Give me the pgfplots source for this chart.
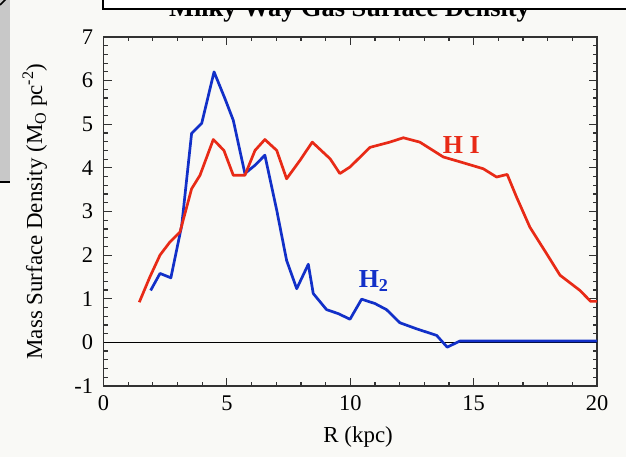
\documentclass[border=0pt]{standalone}
\usepackage{pgfplots}
\pgfplotsset{compat=1.18}
\usepackage{fontspec}
\setmainfont{Liberation Serif}
\definecolor{bgc}{RGB}{249,249,246}
\definecolor{hired}{RGB}{232,42,22}
\definecolor{htwoblue}{RGB}{18,48,200}
\definecolor{panelgray}{RGB}{200,200,200}
\definecolor{framec}{RGB}{50,50,50}
\begin{document}
\begin{tikzpicture}[x=1bp,y=1bp]
\useasboundingbox (0,0) rectangle (626,457);
\fill[bgc] (0,0) rectangle (626,457);
\begin{axis}[
  at={(103.5bp,71bp)}, anchor=south west,
  scale only axis, width=493.5bp, height=349bp,
  xmin=0, xmax=20, ymin=-1, ymax=7,
  xtick={0,5,10,15,20}, minor x tick num=4,
  ytick={-1,0,1,2,3,4,5,6,7}, minor y tick num=4,
  tick align=inside, major tick length=8bp, minor tick length=4bp,
  every tick/.style={framec, line width=1.2bp},
  axis line style={framec, line width=1.5bp},
  tick pos=both,
  /pgf/number format/assume math mode=true,
  tick label style={font=\fontsize{22.5}{24}\selectfont},
  xticklabel style={yshift=-6bp},
  yticklabel style={xshift=-7bp},
  xlabel={R (kpc)},
  ylabel={Mass Surface Density (M\textsubscript{O} pc\textsuperscript{-2})},
  every axis x label/.style={at={(axis description cs:0.516,-0.146)}, anchor=center, font=\fontsize{23}{24}\selectfont},
  every axis y label/.style={at={(axis description cs:-0.139,0.5)}, rotate=90, anchor=center, font=\fontsize{23}{24}\selectfont},
  axis background/.style={fill=bgc},
  clip=false,
]
\addplot[black, line width=0.9bp] coordinates {(0,0) (20,0)};
\addplot[htwoblue, line width=2.7bp, line join=round] coordinates {
(1.91,1.19)(2.29,1.58)(2.73,1.48)(3.17,2.68)(3.57,4.79)(3.98,5.02)(4.48,6.20)(4.92,5.59)(5.26,5.09)(5.73,3.87)(6.14,4.06)(6.54,4.29)(7.02,3.03)(7.42,1.88)(7.83,1.23)(8.30,1.79)(8.50,1.12)(9.04,0.75)(9.51,0.66)(9.99,0.53)(10.46,0.99)(11.0,0.89)(11.47,0.75)(12.01,0.45)(12.69,0.31)(13.5,0.16)(13.93,-0.11)(14.44,0.03)(20,0.03)};
\addplot[hired, line width=2.7bp, line join=round] coordinates {
(1.45,0.92)(1.88,1.50)(2.29,2.0)(2.69,2.30)(3.10,2.53)(3.57,3.52)(3.91,3.83)(4.45,4.65)(4.88,4.40)(5.26,3.83)(5.73,3.83)(6.14,4.40)(6.54,4.65)(7.02,4.40)(7.42,3.75)(7.96,4.17)(8.46,4.59)(9.18,4.21)(9.58,3.87)(9.99,4.02)(10.80,4.47)(11.6,4.59)(12.15,4.69)(12.82,4.59)(13.77,4.25)(14.44,4.14)(15.39,3.98)(15.93,3.79)(16.36,3.85)(16.74,3.33)(17.28,2.64)(17.96,2.03)(18.50,1.54)(19.31,1.19)(19.74,0.94)(20,0.94)};
\node[hired, font=\bfseries\fontsize{26}{28}\selectfont] at (axis cs:14.5,4.52) {H I};
\node[htwoblue, font=\bfseries\fontsize{26}{28}\selectfont] at (axis cs:10.95,1.4) {H\textsubscript{2}};
\end{axis}
% title (cut off at the top by the box)
\node[anchor=base, font=\bfseries\fontsize{26.5}{28}\selectfont] at (349.5,440) {Milky Way Gas Surface Density};
\fill[white] (103,448) rectangle (640,470);
\draw[black, line width=2bp] (103,470) -- (103,448) -- (640,448);
% left gray panel
\fill[panelgray] (-5,275) rectangle (10,470);
\draw[black, line width=2bp] (-5,275) -- (10,275);
\draw[black, line width=1.5bp] (0,452) -- (8,460);
\end{tikzpicture}
\end{document}
